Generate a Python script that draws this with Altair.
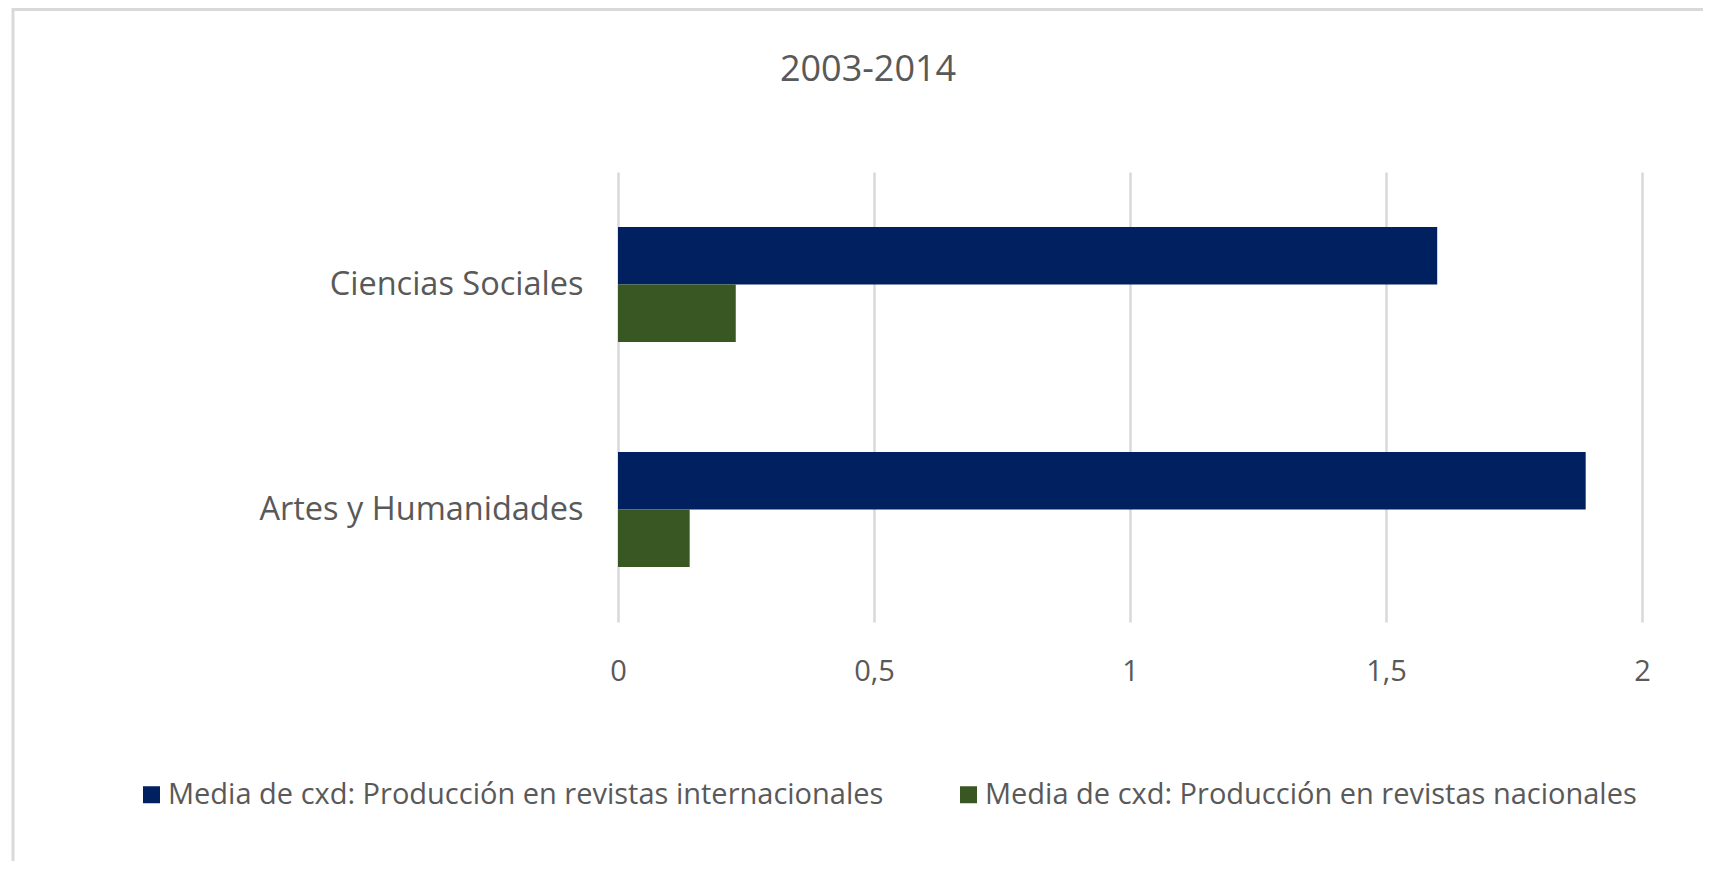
import altair as alt
import pandas as pd

categorias = ["Ciencias Sociales", "Artes y Humanidades"]
series = [
    "Media de cxd: Producción en revistas internacionales",
    "Media de cxd: Producción en revistas nacionales",
]
internacionales = [1.60, 1.89]
nacionales = [0.23, 0.14]
colores = ["#002060", "#385723"]
ticks = [0, 0.5, 1, 1.5, 2]
titulo = "2003-2014"

rows = []
for c, a, b in zip(categorias, internacionales, nacionales):
    rows.append({"cat": c, "serie": series[0], "valor": a})
    rows.append({"cat": c, "serie": series[1], "valor": b})
df = pd.DataFrame(rows)

FONT = "Open Sans"
GRAY = "#595959"
GRID = "#d9d9d9"

PAD_L, PAD_T = 610, 164
W, H = 1024, 450
TOTAL_W, TOTAL_H = 1695, 853

bars = alt.Chart(df).mark_bar().encode(
    x=alt.X(
        "valor:Q",
        scale=alt.Scale(domain=[0, 2], nice=False, zero=True),
        axis=alt.Axis(
            values=ticks,
            labelExpr="replace(toString(datum.value), '.', ',')",
            grid=True, gridColor=GRID, gridWidth=2.5,
            domain=False, ticks=False,
            labelFontSize=29, labelColor=GRAY, labelFont=FONT,
            labelPadding=35, labelFlush=False, labelOverlap=False,
            title=None,
        ),
    ),
    y=alt.Y(
        "cat:N", sort=categorias,
        scale=alt.Scale(paddingInner=0.489, paddingOuter=0.2445),
        axis=alt.Axis(
            title=None, domain=False, ticks=False, grid=False,
            labelFontSize=32.5, labelColor=GRAY, labelFont=FONT,
            labelPadding=35, labelLimit=0,
        ),
    ),
    yOffset=alt.YOffset("serie:N", sort=series,
                        scale=alt.Scale(paddingInner=0, paddingOuter=0)),
    color=alt.Color(
        "serie:N",
        scale=alt.Scale(domain=series, range=colores),
        legend=alt.Legend(
            orient="none", legendX=-481, legendY=608,
            direction="horizontal", title=None,
            symbolType="square", symbolSize=289, symbolStrokeWidth=0,
            symbolOpacity=1,
            labelFontSize=29, labelFont=FONT, labelColor=GRAY,
            labelOffset=2, columnPadding=70, labelLimit=0,
        ),
    ),
)

frame_df = pd.DataFrame({"k": [0]})
left_border = alt.Chart(frame_df).mark_rule(color=GRID, strokeWidth=3).encode(
    x=alt.value(5 - PAD_L), y=alt.value(-PAD_T), y2=alt.value(TOTAL_H - PAD_T)
)
top_border = alt.Chart(frame_df).mark_rule(color=GRID, strokeWidth=3).encode(
    y=alt.value(1.5 - PAD_T), x=alt.value(5 - PAD_L), x2=alt.value(TOTAL_W - PAD_L)
)

chart = alt.layer(left_border, top_border, bars).properties(
    width=W, height=H,
    background="white",
    title=alt.TitleParams(
        titulo, fontSize=36, font=FONT, color=GRAY, fontWeight="normal",
        anchor="middle", frame="group", dx=-262, offset=-110, baseline="alphabetic",
    ),
    autosize=alt.AutoSizeParams(type="none"),
    padding={"left": PAD_L, "top": PAD_T, "right": TOTAL_W - PAD_L - W,
             "bottom": TOTAL_H - PAD_T - H},
).configure_view(strokeWidth=0, stroke="transparent")

chart.save("out.html", embed_options={"renderer": "svg", "actions": False})
